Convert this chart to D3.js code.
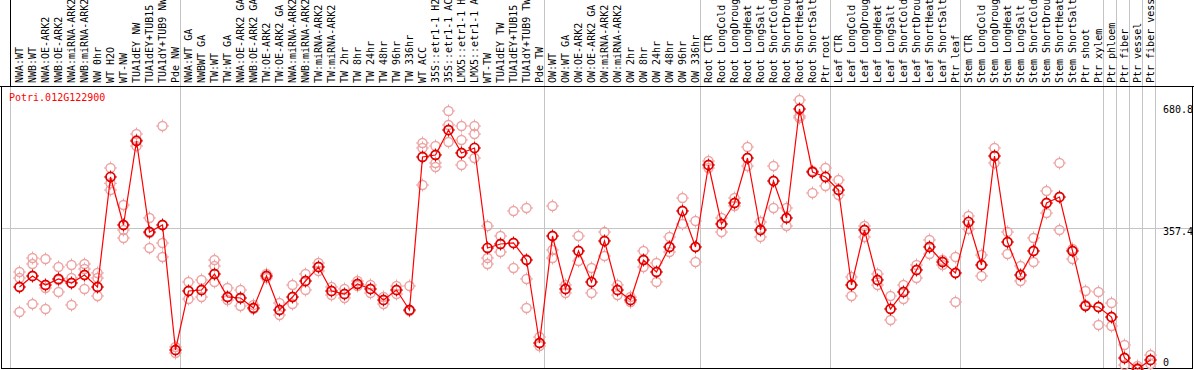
<!DOCTYPE html>
<html><head><meta charset="utf-8">
<script src="https://cdn.jsdelivr.net/npm/d3@7"></script>
<style>
body{margin:0;background:#fff;}
svg{display:block;}
text{font-family:"DejaVu Sans Mono","Liberation Mono",monospace;font-size:10px;}
</style></head>
<body><svg id="c" width="1194" height="370"></svg>
<script>
const title = "Potri.012G122900";
const categories = [
"NWA:WT","NWB:WT","NWA:OE-ARK2","NWB:OE-ARK2","NWA:miRNA-ARK2","NWB:miRNA-ARK2","NW 0hr","WT H2O","WT-NW","TUA1dEY NW","TUA1dEY+TUB15 NW","TUA1dY+TUB9 NW","Pde NW",
"NWA:WT GA","NWBWT GA","TW:WT","TW:WT GA","NWA:OE-ARK2 GA","NWB:OE-ARK2 GA","TW:OE-ARK2","TW:OE-ARK2 GA","NWA:miRNA-ARK2","NWB:miRNA-ARK2","TW:miRNA-ARK2","TW:miRNA-ARK2","TW 2hr","TW 8hr","TW 24hr","TW 48hr","TW 96hr","TW 336hr","WT ACC","35S::etr1-1 H2O","35S::etr1-1 ACC","LMX5::etr1-1 H2O","LMX5::etr1-1 ACC","WT-TW","TUA1dEY TW","TUA1dEY+TUB15 TW","TUA1dY+TUB9 TW","Pde TW",
"OW:WT","OW:WT GA","OW:OE-ARK2","OW:OE-ARK2 GA","OW:miRNA-ARK2","OW:miRNA-ARK2","OW 2hr","OW 8hr","OW 24hr","OW 48hr","OW 96hr","OW 336hr",
"Root CTR","Root LongCold","Root LongDrought","Root LongHeat","Root LongSalt","Root ShortCold","Root ShortDrought","Root ShortHeat","Root ShortSalt","Ptr root",
"Leaf CTR","Leaf LongCold","Leaf LongDrought","Leaf LongHeat","Leaf LongSalt","Leaf ShortCold","Leaf ShortDrought","Leaf ShortHeat","Leaf ShortSalt","Ptr leaf",
"Stem CTR","Stem LongCold","Stem LongDrought","Stem LongHeat","Stem LongSalt","Stem ShortCold","Stem ShortDrought","Stem ShortHeat","Stem ShortSalt","Ptr shoot",
"Ptr xylem","Ptr phloem","Ptr fiber","Ptr vessel","Ptr fiber vessel"
];
// index of the last category before each vertical separator
const separatorsAfter = [12, 40, 52, 62, 72, 83, 84, 85, 86, 87];

const means = [
207.5,235.4,212.6,227.8,217.7,237.9,207.5,486.0,364.5,577.1,346.7,364.5,48.1,
197.4,199.9,240.4,182.2,179.7,154.4,235.4,149.3,182.2,222.7,258.2,197.4,189.8,215.1,202.5,174.6,199.9,149.3,536.6,541.6,604.9,546.7,559.4,306.3,316.4,318.9,275.9,65.8,
336.6,202.5,298.7,220.2,324.0,199.9,174.6,275.9,245.5,308.8,399.9,308.8,
516.3,367.0,420.1,534.0,351.8,475.8,382.2,658.1,498.6,486.0,
453.0,212.6,351.8,225.3,151.9,194.9,250.6,308.8,270.8,243.0,
372.1,263.2,539.1,321.4,237.9,298.7,420.1,435.3,298.7,159.5,
156.9,131.6,27.8,0,22.8
];

const replicates = [
[245.5,230.3,144.3],[280.9,265.8,164.5],[278.4,205.0,151.9],[258.2,225.3,194.9],[263.2,230.3,162.0],[265.8,253.1,202.5],[243.0,230.3,184.8],[508.7,470.0,453.0],[415.1,351.8,331.6],[594.8,579.6,564.4],[382.2,344.2,306.3],[615.0,318.9,283.5],[55.7,40.5],
[220.2,177.2],[225.3,182.2],[275.9,260.7,220.2],[205.0,174.6],[199.9,159.5],[162.0,151.9],[240.4,230.3],[167.0,136.7],[212.6,164.5],[240.4,199.9],[268.3,248.0],[207.5,187.3],[202.5,179.7],[222.7,210.1],[212.6,192.4],[182.2,164.5],[210.1,189.8],[210.1,146.8],[572.0,559.4,465.7],[564.4,521.4,511.3],[653.0,617.6,574.5],[615.0,579.6,516.3],[615.0,594.8,534.0],[361.9,280.9,265.8],[336.6,296.1],[399.9,255.6],[407.5,227.8,154.4],[81.0,58.2],
[412.6,301.2,280.9],[212.6,192.4],[336.6,273.3],[255.6,192.4],[346.7,286.0],[212.6,187.3],[182.2,169.6],[298.7,258.2],[268.3,220.2],[334.1,296.1],[432.8,367.0],[374.6,270.8],
[526.4,508.7],[382.2,346.7],[432.8,412.6],[561.9,513.8],[372.1,334.1],[513.8,407.5],[407.5,361.9],[680.8,640.3,635.3],[501.1,445.5],[508.7,463.2],
[478.4,440.4],[232.9,184.8],[361.9,334.1],[240.4,212.6],[184.8,124.0],[212.6,177.2],[263.2,230.3],[326.5,291.1],[275.9,263.2],[283.5,169.6],
[387.2,354.3],[288.5,235.4],[559.4,521.4],[346.7,291.1],[260.7,222.7],[331.6,270.8],[450.5,394.8],[521.4,351.8],[303.7,278.4],[197.4,162.0],
[194.9,111.4],[167.0,108.8],[60.7,10.1],[7.6,2.5],[35.4,12.7]
];

const yTicks = [680.8, 357.4, 0];
const gridValue = 357.4;

const svg = d3.select("#c");
const W = 1194, H = 370;
const headerBottom = 86.5;
const plotBottom = 368.5;

const x = d3.scaleLinear().domain([0, categories.length - 1]).range([19.5, 1150.5]);
const y = d3.scaleLinear().domain([0, d3.max(yTicks)]).range([369, 100]);

// vertical separators
const sepX = [Math.floor(x(0) - 9) + 0.5].concat(separatorsAfter.map(i => Math.floor(x(i) + 5) + 0.5));
svg.append("g").selectAll("line").data(sepX).join("line")
  .attr("x1", d => d).attr("x2", d => d).attr("y1", 0).attr("y2", plotBottom)
  .attr("stroke", "#c4c4c4").attr("stroke-width", 1).attr("shape-rendering", "crispEdges");

// horizontal gridline
svg.append("line").attr("x1", 1.5).attr("x2", 1192.5)
  .attr("y1", Math.round(y(gridValue)) + 0.5).attr("y2", Math.round(y(gridValue)) + 0.5)
  .attr("stroke", "#c4c4c4").attr("shape-rendering", "crispEdges");

// header labels (long ones run off the top edge, as in the original)
svg.append("g").selectAll("text").data(categories).join("text")
  .attr("transform", (d, i) => `translate(${x(i) + 3.5},83) rotate(-90)`)
  .attr("fill", "#000").text(d => d);

// borders
svg.append("line").attr("x1", 0).attr("x2", W).attr("y1", headerBottom).attr("y2", headerBottom)
  .attr("stroke", "#000").attr("shape-rendering", "crispEdges");
svg.append("line").attr("x1", 10.5).attr("x2", 10.5).attr("y1", 0).attr("y2", headerBottom)
  .attr("stroke", "#000").attr("shape-rendering", "crispEdges");
svg.append("path").attr("d", `M1.5,${headerBottom}V${plotBottom}H1192.5V${headerBottom}`)
  .attr("fill", "none").attr("stroke", "#000").attr("shape-rendering", "crispEdges");

function marker(g, color, sw) {
  g.append("circle").attr("r", 4.5).attr("fill", "none").attr("stroke", color).attr("stroke-width", sw);
  g.append("path").attr("d", "M0,-6.5V-4.5M0,4.5V6.5M-6.5,0H-4.5M4.5,0H6.5")
    .attr("stroke", color).attr("stroke-width", 1);
}

// replicates
const repPts = [];
replicates.forEach((arr, i) => arr.forEach(v => repPts.push({i, v})));
svg.append("g").selectAll("g").data(repPts).join("g")
  .attr("transform", d => `translate(${x(d.i)},${y(d.v)})`)
  .each(function () { marker(d3.select(this), "#eea2a2", 1.4); });

// mean line
svg.append("path").datum(means)
  .attr("d", d3.line().x((d, i) => x(i)).y(d => y(d)))
  .attr("fill", "none").attr("stroke", "#ff0000").attr("stroke-width", 1.2);

// mean markers
svg.append("g").selectAll("g").data(means).join("g")
  .attr("transform", (d, i) => `translate(${x(i)},${y(d)})`)
  .each(function () { marker(d3.select(this), "#e00000", 1.8); });

// title
svg.append("text").attr("x", 9).attr("y", 101).attr("fill", "#ff0000").text(title);

// right axis
const ax = svg.append("g").attr("transform", "translate(1161,0)")
  .call(d3.axisRight(y).tickValues(yTicks).tickSize(0).tickPadding(2)
    .tickFormat(d => d === 0 ? "0" : d3.format(".1f")(d)));
ax.select(".domain").remove();
ax.selectAll("text").attr("font-family", null).attr("font-size", null).attr("fill", "#000")
  .attr("dy", d => d === d3.max(yTicks) ? "1.22em" : d === 0 ? "-0.38em" : "0.72em");
</script>
</body></html>
